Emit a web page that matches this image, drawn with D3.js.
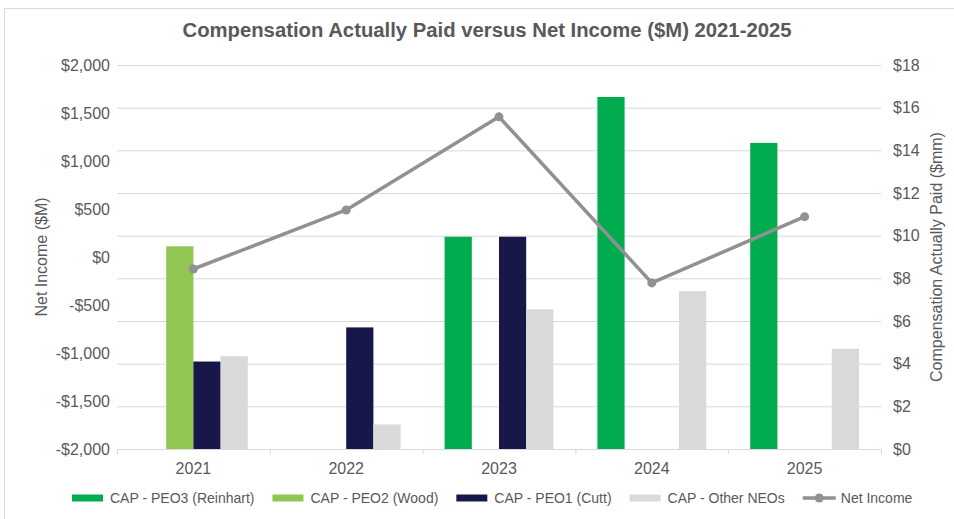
<!DOCTYPE html>
<html>

<head>
  <script src="https://cdn.jsdelivr.net/npm/d3@7/dist/d3.min.js"></script>
  <style>
    body {
      margin: 0;
      background: white;
    }

    svg text {
      font-family: "Liberation Sans", Arial, sans-serif;
      fill: #595959;
    }
  </style>
</head>

<body>
  <script>
    // values
    const years = ['2021', '2022', '2023', '2024', '2025']
    const peo3 = [null, null, 9.95, 16.5, 14.35]
    const peo2 = [9.5, null, null, null, null]
    const peo1 = [4.1, 5.7, 9.95, null, null]
    const otherNeos = [4.35, 1.15, 6.55, 7.4, 4.7]
    const netIncome = [-125, 490, 1460, -270, 420]

    const leftTicks = [-2000, -1500, -1000, -500, 0, 500, 1000, 1500, 2000]
    const rightTicks = [0, 2, 4, 6, 8, 10, 12, 14, 16, 18]

    const series = [
      { name: 'CAP - PEO3 (Reinhart)', values: peo3, color: '#00AC4E' },
      { name: 'CAP - PEO2 (Wood)', values: peo2, color: '#92C653' },
      { name: 'CAP - PEO1 (Cutt)', values: peo1, color: '#17174A' },
      { name: 'CAP - Other NEOs', values: otherNeos, color: '#D9D9D9' }
    ]
    const lineColor = '#919191'

    const width = 954
    const height = 519
    const plot = { left: 117, right: 881, top: 65, bottom: 449 }

    const svg = d3.select('body').append('svg')
      .attr('width', width)
      .attr('height', height)

    // chart frame
    svg.append('rect')
      .attr('x', 4.5).attr('y', 8.5)
      .attr('width', 980).attr('height', 540)
      .attr('fill', 'none')
      .attr('stroke', '#d9d9d9')

    const x = d3.scaleBand().domain(years).range([plot.left, plot.right])
    const yRight = d3.scaleLinear().domain([0, 18]).range([plot.bottom, plot.top])
    const yLeft = d3.scaleLinear().domain([-2000, 2000]).range([plot.bottom, plot.top])

    const groupWidth = x.bandwidth() * 0.712
    const xs = d3.scaleBand().domain(d3.range(series.length)).range([0, groupWidth])

    // gridlines follow the right axis
    svg.append('g')
      .selectAll('line')
      .data(rightTicks.slice(1))
      .join('line')
      .attr('x1', plot.left).attr('x2', plot.right)
      .attr('y1', d => yRight(d) + 0.5).attr('y2', d => yRight(d) + 0.5)
      .attr('stroke', '#d9d9d9')
      .attr('stroke-width', 1)

    // bars
    series.forEach((s, i) => {
      svg.append('g')
        .selectAll('rect')
        .data(years.map((yr, j) => ({ yr, v: s.values[j] })).filter(d => d.v != null))
        .join('rect')
        .attr('x', d => x(d.yr) + (x.bandwidth() - groupWidth) / 2 + xs(i))
        .attr('width', xs.bandwidth())
        .attr('y', d => yRight(d.v))
        .attr('height', d => plot.bottom - yRight(d.v))
        .attr('fill', s.color)
    })

    // x axis
    const xAxis = svg.append('g').attr('transform', `translate(0,${plot.bottom + 0.5})`)
    xAxis.append('line')
      .attr('x1', plot.left).attr('x2', plot.right)
      .attr('stroke', '#d9d9d9')
    xAxis.selectAll('line.tick')
      .data(d3.range(years.length + 1))
      .join('line')
      .attr('class', 'tick')
      .attr('x1', i => plot.left + i * x.step() + 0.5)
      .attr('x2', i => plot.left + i * x.step() + 0.5)
      .attr('y1', 0).attr('y2', 5)
      .attr('stroke', '#d9d9d9')
    xAxis.selectAll('text')
      .data(years)
      .join('text')
      .attr('x', d => x(d) + x.bandwidth() / 2)
      .attr('y', 24)
      .attr('text-anchor', 'middle')
      .attr('font-size', 16)
      .text(d => d)

    // left axis labels
    const fmtLeft = d => (d < 0 ? '-$' : '$') + d3.format(',')(Math.abs(d))
    svg.append('g')
      .selectAll('text')
      .data(leftTicks)
      .join('text')
      .attr('x', 110)
      .attr('y', d => yLeft(d))
      .attr('dy', '0.35em')
      .attr('text-anchor', 'end')
      .attr('font-size', 16)
      .text(fmtLeft)

    // right axis labels
    svg.append('g')
      .selectAll('text')
      .data(rightTicks)
      .join('text')
      .attr('x', 893)
      .attr('y', d => yRight(d))
      .attr('dy', '0.35em')
      .attr('font-size', 16)
      .text(d => '$' + d)

    // axis titles
    svg.append('text')
      .attr('transform', `translate(47,${(plot.top + plot.bottom) / 2}) rotate(-90)`)
      .attr('text-anchor', 'middle')
      .attr('font-size', 16)
      .text('Net Income ($M)')

    svg.append('text')
      .attr('transform', `translate(942,${(plot.top + plot.bottom) / 2}) rotate(-90)`)
      .attr('text-anchor', 'middle')
      .attr('font-size', 16)
      .text('Compensation Actually Paid ($mm)')

    // net income line on the left axis
    const line = d3.line()
      .x((d, i) => x(years[i]) + x.bandwidth() / 2)
      .y(d => yLeft(d))

    svg.append('path')
      .attr('d', line(netIncome))
      .attr('fill', 'none')
      .attr('stroke', lineColor)
      .attr('stroke-width', 3.5)
      .attr('stroke-linejoin', 'round')

    svg.append('g')
      .selectAll('circle')
      .data(netIncome)
      .join('circle')
      .attr('cx', (d, i) => x(years[i]) + x.bandwidth() / 2)
      .attr('cy', d => yLeft(d))
      .attr('r', 4.5)
      .attr('fill', lineColor)

    // title
    svg.append('text')
      .attr('x', 487)
      .attr('y', 37)
      .attr('text-anchor', 'middle')
      .attr('font-size', 20.3)
      .attr('font-weight', 'bold')
      .text('Compensation Actually Paid versus Net Income ($M) 2021-2025')

    // legend
    const legend = svg.append('g').attr('transform', 'translate(0,498)')
    let lx = 72
    series.concat([{ name: 'Net Income', line: true }]).forEach(s => {
      if (s.line) {
        legend.append('line')
          .attr('x1', lx).attr('x2', lx + 33)
          .attr('stroke', lineColor).attr('stroke-width', 3.5)
        legend.append('circle')
          .attr('cx', lx + 16.5).attr('r', 4.5).attr('fill', lineColor)
        lx += 38
      } else {
        legend.append('rect')
          .attr('x', lx).attr('y', -3.5)
          .attr('width', 31).attr('height', 7)
          .attr('fill', s.color)
        lx += 38
      }
      const t = legend.append('text')
        .attr('x', lx)
        .attr('dy', '0.35em')
        .attr('font-size', 14)
        .text(s.name)
      lx += t.node().getComputedTextLength() + 18
    })
  </script>
</body>

</html>
